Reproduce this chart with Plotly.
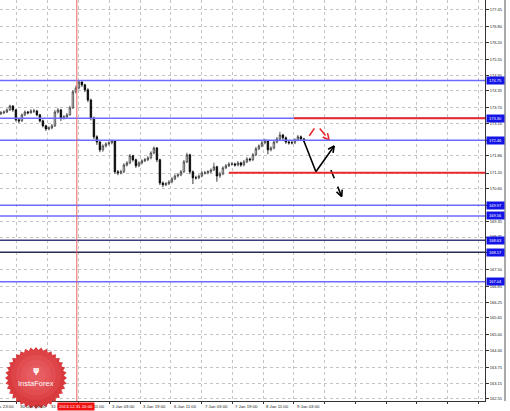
import numpy as np
import plotly.graph_objects as go

# H1 candles (one entry every ~1.5 bars of the original), prices
bar_open = [173.47, 173.51, 173.54, 173.62, 173.77, 173.62, 173.24, 173.20, 173.43, 173.54,
            173.51, 173.58, 173.58, 173.43, 173.20, 173.01, 172.89, 172.93, 173.01, 173.54,
            173.62, 173.31, 173.35, 173.43, 173.70, 174.31, 174.46, 174.69, 174.58, 174.39,
            174.00, 173.31, 172.59, 172.39, 172.09, 172.24, 172.32, 172.36, 172.43, 171.25,
            171.21, 171.25, 171.51, 171.59, 171.86, 171.71, 171.48, 171.59, 171.67, 171.71,
            171.78, 171.97, 172.16, 171.71, 170.82, 170.75, 170.79, 170.86, 170.98, 171.09,
            171.13, 171.25, 171.63, 171.90, 171.25, 171.02, 171.02, 171.09, 171.21, 171.21,
            171.25, 171.32, 171.44, 171.09, 171.17, 171.40, 171.48, 171.55, 171.55, 171.51,
            171.59, 171.51, 171.63, 171.74, 171.71, 171.90, 172.13, 172.24, 172.36, 172.43,
            172.09, 172.16, 172.39, 172.51, 172.66, 172.55, 172.39, 172.36, 172.36, 172.47,
            172.59, 172.51]
bar_high = [173.58, 173.60, 173.68, 173.82, 173.80, 173.66, 173.30, 173.48, 173.60, 173.58,
            173.65, 173.66, 173.62, 173.47, 173.25, 173.05, 172.99, 173.08, 173.62, 173.70,
            173.66, 173.42, 173.50, 173.78, 174.38, 174.55, 174.76, 174.72, 174.62, 174.45,
            174.05, 173.36, 172.65, 172.45, 172.30, 172.38, 172.42, 172.48, 172.47, 171.32,
            171.33, 171.58, 171.66, 171.93, 171.90, 171.75, 171.65, 171.73, 171.78, 171.85,
            172.04, 172.22, 172.20, 171.75, 170.88, 170.86, 170.93, 171.05, 171.15, 171.20,
            171.32, 171.70, 171.98, 171.94, 171.30, 171.10, 171.15, 171.28, 171.29, 171.31,
            171.38, 171.60, 171.48, 171.25, 171.46, 171.55, 171.62, 171.62, 171.60, 171.66,
            171.64, 171.70, 171.81, 171.79, 171.97, 172.20, 172.30, 172.43, 172.52, 172.47,
            172.23, 172.45, 172.58, 172.78, 172.70, 172.60, 172.44, 172.43, 172.53, 172.66,
            172.64, 172.55]
bar_low = [173.42, 173.46, 173.50, 173.58, 173.55, 173.18, 173.12, 173.16, 173.38, 173.45,
           173.47, 173.50, 173.38, 173.14, 172.95, 172.82, 172.84, 172.88, 172.97, 173.48,
           173.20, 173.25, 173.30, 173.40, 173.66, 174.25, 174.40, 174.50, 174.30, 173.92,
           173.22, 172.50, 172.28, 172.00, 172.02, 172.18, 172.26, 172.30, 171.18, 171.12,
           171.15, 171.20, 171.45, 171.54, 171.64, 171.40, 171.43, 171.53, 171.62, 171.66,
           171.73, 171.92, 171.62, 170.74, 170.66, 170.70, 170.74, 170.81, 170.93, 171.03,
           171.08, 171.20, 171.58, 171.16, 170.78, 170.95, 170.97, 171.04, 171.14, 171.15,
           171.20, 171.28, 170.87, 171.02, 171.12, 171.35, 171.43, 171.48, 171.45, 171.46,
           171.44, 171.46, 171.58, 171.64, 171.66, 171.85, 172.08, 172.19, 172.30, 171.92,
           172.03, 172.11, 172.34, 172.46, 172.48, 172.32, 172.29, 172.30, 172.31, 172.42,
           172.45, 172.38]
bar_close = [173.51, 173.54, 173.62, 173.77, 173.62, 173.24, 173.20, 173.43, 173.54, 173.51,
             173.58, 173.58, 173.43, 173.20, 173.01, 172.89, 172.93, 173.01, 173.54, 173.62,
             173.31, 173.35, 173.43, 173.70, 174.31, 174.46, 174.69, 174.58, 174.39, 174.00,
             173.31, 172.59, 172.39, 172.09, 172.24, 172.32, 172.36, 172.43, 171.25, 171.21,
             171.25, 171.51, 171.59, 171.86, 171.71, 171.48, 171.59, 171.67, 171.71, 171.78,
             171.97, 172.16, 171.71, 170.82, 170.75, 170.79, 170.86, 170.98, 171.09, 171.13,
             171.25, 171.63, 171.90, 171.25, 171.02, 171.02, 171.09, 171.21, 171.21, 171.25,
             171.32, 171.44, 171.09, 171.17, 171.40, 171.48, 171.55, 171.55, 171.51, 171.59,
             171.51, 171.63, 171.74, 171.71, 171.90, 172.13, 172.24, 172.36, 172.43, 172.09,
             172.16, 172.39, 172.51, 172.66, 172.55, 172.39, 172.36, 172.36, 172.47, 172.59,
             172.51, 172.43]

# price scale labels on the right
price_ticks = [177.45, 176.80, 176.20, 175.55, 174.95, 174.35, 173.70, 173.10, 172.45,
               171.86, 171.20, 170.60, 169.95, 169.35, 168.75, 168.15, 167.50, 166.85,
               166.25, 165.65, 165.00, 164.40, 163.75, 163.15, 162.55]

# time scale
time_ticks = [5.3, 15.6, 25.9, 36.1, 46.4, 56.6, 66.9, 77.1, 87.4, 97.6,
              107.9, 118.1, 128.4, 138.6, 148.9, 159.1]
time_labels = ["30 Dec 15:00", "31 Dec 07:00", "2 Jan 11:00", "3 Jan 03:00", "3 Jan 19:00",
               "6 Jan 11:00", "7 Jan 03:00", "7 Jan 19:00", "8 Jan 11:00", "9 Jan 03:00"]

# horizontal levels
blue_levels = [174.75, 173.30, 172.46, 169.97, 169.56, 168.63, 168.17, 167.04]
blue_colors = ["#6b6bff", "#6b6bff", "#6b6bff", "#6b6bff", "#6b6bff", "#3a3a7a", "#2a2a55", "#6b6bff"]
red_levels = [173.30, 171.21]
red_starts = [97.7, 76.0]
separator_x = 25.3
separator_label = "2013.12.31 20:00"

# forecast drawings (bar index, price)
black_path_x = [101.0, 105.0, 111.1]
black_path_y = [172.43, 171.25, 172.24]
black_dash_x = [110.0, 113.6]
black_dash_y = [171.32, 170.30]
red_path_x = [102.8, 105.3, 109.4]
red_path_y = [172.63, 173.05, 172.47]

PLOT_W, PLOT_H = 485, 401
X_RANGE = [-0.3, PLOT_W / 3 - 0.3]
Y_RANGE = [162.47, 177.83]
PX_X = PLOT_W / (X_RANGE[1] - X_RANGE[0])
PX_Y = PLOT_H / (Y_RANGE[1] - Y_RANGE[0])
FONT = "Liberation Sans"


def arrow_head(x0, y0, x1, y1, size=7, spread=0.45):
    dx, dy = (x1 - x0) * PX_X, (y1 - y0) * PX_Y
    n = np.hypot(dx, dy)
    ux, uy = dx / n, dy / n
    xs, ys = [], []
    for a in (spread, -spread):
        c, s = np.cos(a), np.sin(a)
        bx = -(ux * c - uy * s) * size
        by = -(ux * s + uy * c) * size
        xs += [x1 + bx / PX_X, x1, None]
        ys += [y1 + by / PX_Y, y1, None]
    return xs, ys


fig = go.Figure()

fig.add_trace(go.Candlestick(
    x=list(range(len(bar_close))), open=bar_open, high=bar_high, low=bar_low, close=bar_close,
    increasing=dict(line=dict(color="#333", width=0.8), fillcolor="white"),
    decreasing=dict(line=dict(color="black", width=0.8), fillcolor="black"),
    whiskerwidth=0, showlegend=False, hoverinfo="skip"))

for px_, py_, col, dash in [(black_path_x, black_path_y, "black", "solid"),
                           (black_dash_x, black_dash_y, "black", "dash"),
                           (red_path_x, red_path_y, "#e8282e", "dash")]:
    hx, hy = arrow_head(px_[-2], py_[-2], px_[-1], py_[-1])
    fig.add_trace(go.Scatter(x=px_, y=py_, mode="lines", line=dict(color=col, width=1.6, dash=dash),
                             showlegend=False, hoverinfo="skip"))
    fig.add_trace(go.Scatter(x=hx, y=hy, mode="lines", line=dict(color=col, width=1.6),
                             showlegend=False, hoverinfo="skip"))

shapes = []
for lvl, col in zip(blue_levels, blue_colors):
    shapes.append(dict(type="line", xref="paper", x0=0, x1=1, yref="y", y0=lvl, y1=lvl,
                       line=dict(color=col, width=1.5), layer="above"))
for lvl, x0 in zip(red_levels, red_starts):
    shapes.append(dict(type="line", xref="x", x0=x0, x1=X_RANGE[1], yref="y", y0=lvl, y1=lvl,
                       line=dict(color="#e8282e", width=2), layer="above"))
shapes.append(dict(type="line", xref="x", x0=separator_x, x1=separator_x, yref="paper", y0=0, y1=1,
                   line=dict(color="#e86060", width=1), layer="above"))
# outer window frame on the far right
shapes.append(dict(type="line", xref="paper", x0=505 / PLOT_W, x1=505 / PLOT_W, yref="paper",
                   y0=0, y1=1, line=dict(color="#555", width=1)))

# InstaForex badge: saw-tooth disc with a soft radial shading
cx, cy, r_out, r_in, teeth = 36, 378, 31, 28, 36
ang = np.linspace(0, 2 * np.pi, teeth * 2, endpoint=False)
rad = np.where(np.arange(teeth * 2) % 2 == 0, r_out, r_in)
pts = [((cx + r * np.cos(a)) / PLOT_W, 1 - (cy + r * np.sin(a)) / PLOT_H) for r, a in zip(rad, ang)]
path = "M " + " L ".join(f"{x:.4f},{y:.4f}" for x, y in pts) + " Z"
shapes.append(dict(type="path", xref="paper", yref="paper", path=path,
                   fillcolor="#d93a3e", line=dict(width=0), layer="above"))
for r in [25, 20, 15, 10]:
    shapes.append(dict(type="circle", xref="paper", yref="paper",
                       x0=(cx - r) / PLOT_W, x1=(cx + r) / PLOT_W,
                       y0=1 - (cy - 3 + r) / PLOT_H, y1=1 - (cy - 3 - r) / PLOT_H,
                       fillcolor="rgba(255,150,150,0.12)", line=dict(width=0), layer="above"))

annotations = []
for tx, lab in zip(time_ticks, time_labels):
    annotations.append(dict(x=tx, xref="x", y=0, yref="paper", text=lab, showarrow=False,
                            xanchor="left", yanchor="top", xshift=1, yshift=-1,
                            font=dict(family=FONT, size=4.3, color="#222")))
annotations.append(dict(x=-15 / PLOT_W, xref="paper", y=0, yref="paper", text="29 Dec 23:00",
                        showarrow=False, xanchor="left", yanchor="top", xshift=1, yshift=-1,
                        font=dict(family=FONT, size=4.3, color="#222")))
annotations.append(dict(x=separator_x - 6.7, xref="x", y=0, yref="paper", text=separator_label,
                        showarrow=False, xanchor="left", yanchor="top", yshift=-1,
                        bgcolor="#f01010", borderpad=1,
                        font=dict(family=FONT, size=4.3, color="white")))
for lvl in blue_levels:
    annotations.append(dict(x=1, xref="paper", y=lvl, yref="y", text=f"{lvl:.2f}", showarrow=False,
                            xanchor="left", yanchor="middle", xshift=1, bgcolor="#1414e6",
                            width=16, height=6, borderpad=0.5,
                            font=dict(family=FONT, size=4, color="white")))
annotations.append(dict(x=cx / PLOT_W, xref="paper", y=1 - 383 / PLOT_H, yref="paper", text="InstaForex",
                        showarrow=False, xanchor="center", yanchor="middle",
                        font=dict(family=FONT, size=7.5, color="white")))
annotations.append(dict(x=cx / PLOT_W, xref="paper", y=1 - 370 / PLOT_H, yref="paper", text="<b>ψ</b>",
                        showarrow=False, xanchor="center", yanchor="middle",
                        font=dict(family="DejaVu Sans", size=8, color="white")))

fig.update_layout(
    width=510, height=411,
    margin=dict(l=0, r=510 - PLOT_W, t=0, b=411 - PLOT_H, autoexpand=False),
    paper_bgcolor="white", plot_bgcolor="white",
    font=dict(family=FONT, size=4, color="#222"),
    shapes=shapes, annotations=annotations,
    xaxis=dict(range=X_RANGE, tickvals=time_ticks, showticklabels=False, ticks="outside",
               ticklen=2, tickcolor="#333", showgrid=True, gridcolor="#c4c4c4", griddash="dot",
               gridwidth=1, showline=True, linecolor="#333", linewidth=1, zeroline=False,
               automargin=False, rangeslider=dict(visible=False), fixedrange=True),
    yaxis=dict(range=Y_RANGE, side="right", tickvals=price_ticks,
               ticktext=[f"{v:.2f}" for v in price_ticks], ticks="outside", ticklen=3,
               tickcolor="#333", tickfont=dict(family=FONT, size=4, color="#222"),
               showgrid=True, gridcolor="#c4c4c4", griddash="dot", gridwidth=1, automargin=False,
               showline=True, linecolor="#333", linewidth=1, zeroline=False, fixedrange=True),
)

fig.write_html("out.html", config={"displayModeBar": False},
               post_script="document.body.style.margin='0';document.body.style.overflow='hidden';")
